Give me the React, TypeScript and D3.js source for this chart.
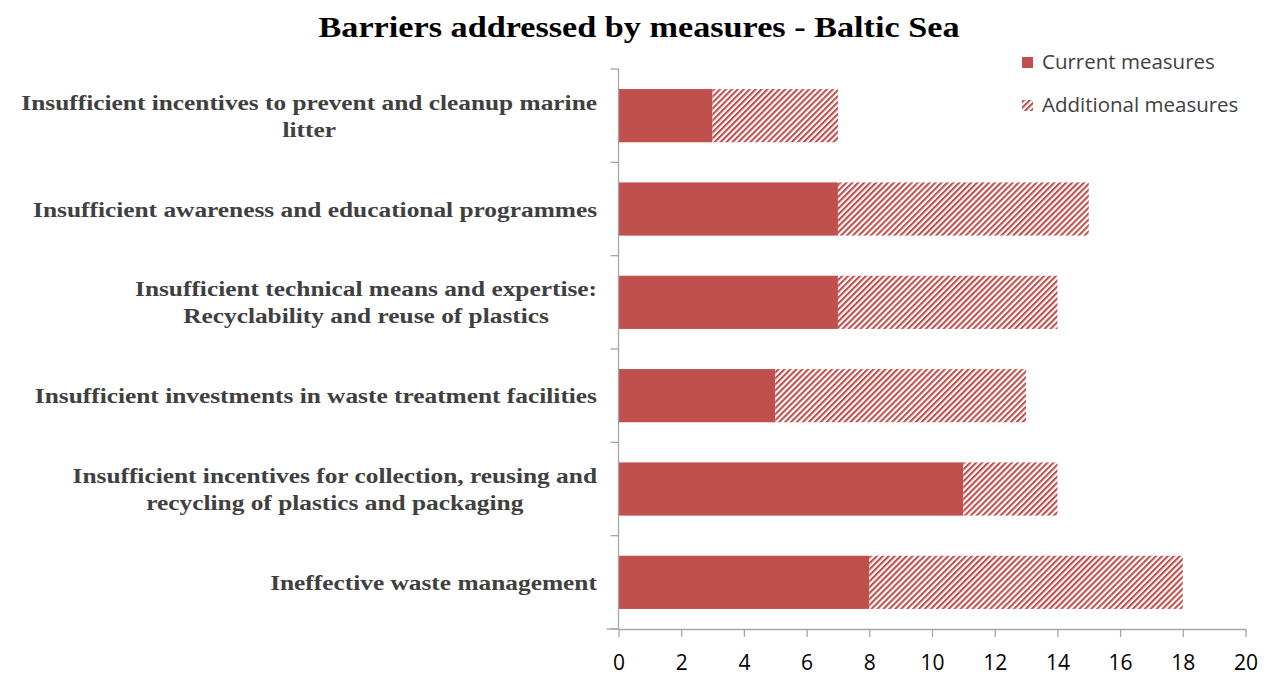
import React, { useEffect, useRef } from "react";
import * as d3 from "d3";

const categories: string[][] = [
  ["Insufficient incentives to prevent and cleanup marine", "litter"],
  ["Insufficient awareness and educational programmes"],
  ["Insufficient technical means and expertise:", "Recyclability and reuse of plastics"],
  ["Insufficient investments in waste treatment facilities"],
  ["Insufficient incentives for collection, reusing and", "recycling of plastics and packaging"],
  ["Ineffective waste management"],
];
const currentMeasures = [3, 7, 7, 5, 11, 8];
const additionalMeasures = [4, 8, 7, 8, 3, 10];
const xTicks = [0, 2, 4, 6, 8, 10, 12, 14, 16, 18, 20];
const seriesNames = ["Current measures", "Additional measures"];
const title = "Barriers addressed by measures - Baltic Sea";

const W = 1274;
const H = 676;
const RED = "#C0504D";
const AXIS = "#A6A6A6";
const TEXT = "#404040";
const STRETCH = 1.18;

export default function App() {
  const ref = useRef<SVGSVGElement>(null);

  useEffect(() => {
    const svg = d3.select(ref.current);
    svg.selectAll("*").remove();

    const defs = svg.append("defs");
    const pat = defs
      .append("pattern")
      .attr("id", "hatch")
      .attr("patternUnits", "userSpaceOnUse")
      .attr("width", 4.2)
      .attr("height", 4.2)
      .attr("patternTransform", "rotate(45)");
    pat.append("rect").attr("width", 4.2).attr("height", 4.2).attr("fill", "#fff");
    pat.append("rect").attr("x", 0).attr("y", 0).attr("width", 2.1).attr("height", 4.2).attr("fill", RED);

    const x = d3.scaleLinear().domain([0, 20]).range([618.5, 1245.5]);
    const idx = categories.map((_, i) => String(i));
    const y = d3.scaleBand().domain(idx).range([69, 629]).paddingInner(0.43).paddingOuter(0.215);
    const yb = d3.scaleBand().domain(idx).range([69, 629]);

    // title
    const tg = svg.append("g").attr("transform", `translate(639,0) scale(${STRETCH},1)`);
    tg.append("text")
      .attr("x", 0)
      .attr("y", 37)
      .attr("text-anchor", "middle")
      .attr("font-family", "'Liberation Serif', serif")
      .attr("font-weight", "bold")
      .attr("font-size", 29)
      .attr("fill", "#000")
      .text(title);

    // bars
    const g = svg.append("g");
    g.selectAll("rect.cur")
      .data(currentMeasures)
      .join("rect")
      .attr("class", "cur")
      .attr("x", x(0))
      .attr("y", (_, i) => y(String(i))!)
      .attr("width", (d) => x(d) - x(0))
      .attr("height", y.bandwidth())
      .attr("fill", RED);
    g.selectAll("rect.add")
      .data(additionalMeasures)
      .join("rect")
      .attr("class", "add")
      .attr("x", (_, i) => x(currentMeasures[i]))
      .attr("y", (_, i) => y(String(i))!)
      .attr("width", (d, i) => x(currentMeasures[i] + d) - x(currentMeasures[i]))
      .attr("height", y.bandwidth())
      .attr("fill", "url(#hatch)");

    // y axis
    const ya = svg.append("g");
    ya.append("line")
      .attr("x1", x(0)).attr("x2", x(0))
      .attr("y1", 69).attr("y2", 629)
      .attr("stroke", AXIS).attr("stroke-width", 1.3);
    const bounds = [...idx.map((k) => yb(k)!), 629];
    ya.selectAll("line.t")
      .data(bounds)
      .join("line")
      .attr("class", "t")
      .attr("x1", x(0) - 8).attr("x2", x(0))
      .attr("y1", (d) => d).attr("y2", (d) => d)
      .attr("stroke", AXIS).attr("stroke-width", 1.3);

    // x axis
    const xa = svg.append("g").attr("transform", "translate(0,629)");
    xa.call(d3.axisBottom(x).tickValues(xTicks).tickSize(8).tickSizeOuter(0).tickPadding(18));
    xa.select(".domain").attr("stroke", AXIS).attr("stroke-width", 1.3);
    xa.selectAll(".tick line").attr("stroke", AXIS).attr("stroke-width", 1.3);
    xa.selectAll(".tick text")
      .attr("font-family", "'Open Sans', sans-serif")
      .attr("font-size", 21)
      .attr("fill", "#000");
    xa.append("line").attr("x1", x(0) - 12).attr("x2", x(0)).attr("stroke", AXIS).attr("stroke-width", 1.3);

    // category labels
    const lineH = 27;
    categories.forEach((lines, i) => {
      const cy = yb(String(i))! + yb.bandwidth() / 2;
      const outer = svg.append("g");
      const lg = outer.append("g").attr("transform", `scale(${STRETCH},1)`);
      lines.forEach((ln, j) => {
        lg.append("text")
          .attr("x", 0)
          .attr("y", cy + (j - (lines.length - 1) / 2) * lineH)
          .attr("dy", "0.35em")
          .attr("text-anchor", "middle")
          .attr("font-family", "'Liberation Serif', serif")
          .attr("font-weight", "bold")
          .attr("font-size", 21.5)
          .attr("fill", TEXT)
          .text(ln);
      });
      const bb = (lg.node() as SVGGElement).getBBox();
      outer.attr("transform", `translate(${597 - (bb.x + bb.width) * STRETCH},0)`);
    });

    // legend
    const leg = svg.append("g");
    const legY = [62, 105];
    leg.append("rect").attr("x", 1022).attr("y", legY[0] - 5).attr("width", 11).attr("height", 11).attr("fill", RED);
    leg.append("rect").attr("x", 1022).attr("y", legY[1] - 5).attr("width", 11).attr("height", 11).attr("fill", "url(#hatch)");
    seriesNames.forEach((s, i) => {
      leg.append("text")
        .attr("x", 1042)
        .attr("y", legY[i])
        .attr("dy", "0.35em")
        .attr("font-family", "'Open Sans', sans-serif")
        .attr("font-size", 20.5)
        .attr("fill", TEXT)
        .text(s);
    });
  }, []);

  return (
    <svg
      ref={ref}
      width={W}
      height={H}
      style={{ position: "absolute", left: 0, top: 0, background: "#fff" }}
    />
  );
}
